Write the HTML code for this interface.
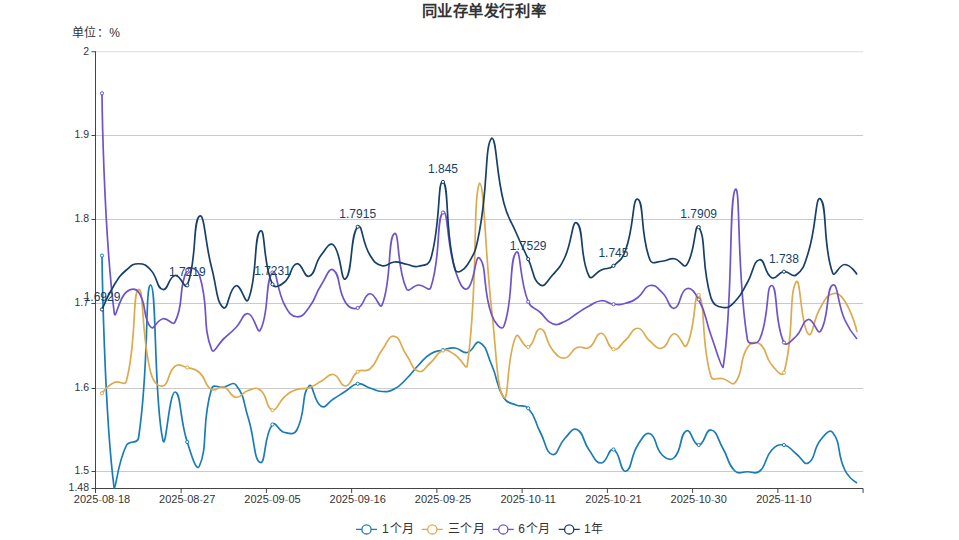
<!DOCTYPE html>
<html lang="zh-CN"><head><meta charset="utf-8"><title>同业存单发行利率</title>
<style>html,body{margin:0;padding:0;background:#fff;width:959px;height:540px;overflow:hidden;font-family:"Liberation Sans",sans-serif}svg{display:block}</style>
</head><body>
<svg width="959" height="540" viewBox="0 0 959 540" font-family='"Liberation Sans", sans-serif'>
<rect width="959" height="540" fill="#fff"/>
<line x1="95.9" y1="51.76" x2="863.1" y2="51.76" stroke="#dcdcdc" stroke-width="1"/>
<line x1="95.9" y1="135.50" x2="863.1" y2="135.50" stroke="#cacaca" stroke-width="1"/>
<line x1="95.9" y1="219.50" x2="863.1" y2="219.50" stroke="#cacaca" stroke-width="1"/>
<line x1="95.9" y1="303.50" x2="863.1" y2="303.50" stroke="#cacaca" stroke-width="1"/>
<line x1="95.9" y1="388.50" x2="863.1" y2="388.50" stroke="#cacaca" stroke-width="1"/>
<line x1="95.9" y1="471.50" x2="863.1" y2="471.50" stroke="#cacaca" stroke-width="1"/>
<line x1="95.5" y1="51.3" x2="95.5" y2="489.0" stroke="#444" stroke-width="1"/>
<line x1="95.0" y1="488.5" x2="863.1" y2="488.5" stroke="#444" stroke-width="1"/>
<line x1="91.5" y1="51.76" x2="95.5" y2="51.76" stroke="#444" stroke-width="1"/>
<line x1="91.5" y1="135.50" x2="95.5" y2="135.50" stroke="#444" stroke-width="1"/>
<line x1="91.5" y1="219.50" x2="95.5" y2="219.50" stroke="#444" stroke-width="1"/>
<line x1="91.5" y1="303.50" x2="95.5" y2="303.50" stroke="#444" stroke-width="1"/>
<line x1="91.5" y1="388.50" x2="95.5" y2="388.50" stroke="#444" stroke-width="1"/>
<line x1="91.5" y1="471.50" x2="95.5" y2="471.50" stroke="#444" stroke-width="1"/>
<line x1="91.5" y1="488.50" x2="95.5" y2="488.50" stroke="#444" stroke-width="1"/>
<line x1="95.50" y1="488.5" x2="95.50" y2="493.0" stroke="#444" stroke-width="1"/>
<line x1="181.14" y1="488.5" x2="181.14" y2="493.0" stroke="#444" stroke-width="1"/>
<line x1="266.39" y1="488.5" x2="266.39" y2="493.0" stroke="#444" stroke-width="1"/>
<line x1="351.63" y1="488.5" x2="351.63" y2="493.0" stroke="#444" stroke-width="1"/>
<line x1="436.88" y1="488.5" x2="436.88" y2="493.0" stroke="#444" stroke-width="1"/>
<line x1="522.12" y1="488.5" x2="522.12" y2="493.0" stroke="#444" stroke-width="1"/>
<line x1="607.37" y1="488.5" x2="607.37" y2="493.0" stroke="#444" stroke-width="1"/>
<line x1="692.61" y1="488.5" x2="692.61" y2="493.0" stroke="#444" stroke-width="1"/>
<line x1="777.86" y1="488.5" x2="777.86" y2="493.0" stroke="#444" stroke-width="1"/>
<line x1="863.10" y1="488.5" x2="863.10" y2="493.0" stroke="#444" stroke-width="1"/>
<text x="89" y="50.56" text-anchor="end" font-size="10.5" fill="#333" dominant-baseline="central">2</text>
<text x="89" y="134.30" text-anchor="end" font-size="10.5" fill="#333" dominant-baseline="central">1.9</text>
<text x="89" y="218.30" text-anchor="end" font-size="10.5" fill="#333" dominant-baseline="central">1.8</text>
<text x="89" y="302.30" text-anchor="end" font-size="10.5" fill="#333" dominant-baseline="central">1.7</text>
<text x="89" y="387.30" text-anchor="end" font-size="10.5" fill="#333" dominant-baseline="central">1.6</text>
<text x="89" y="470.30" text-anchor="end" font-size="10.5" fill="#333" dominant-baseline="central">1.5</text>
<text x="89" y="487.30" text-anchor="end" font-size="10.5" fill="#333" dominant-baseline="central">1.48</text>
<text x="102.0" y="503" text-anchor="middle" font-size="11" fill="#333">2025<tspan fill="#9a9a9a">-</tspan>08<tspan fill="#9a9a9a">-</tspan>18</text>
<text x="187.2" y="503" text-anchor="middle" font-size="11" fill="#333">2025<tspan fill="#9a9a9a">-</tspan>08<tspan fill="#9a9a9a">-</tspan>27</text>
<text x="272.5" y="503" text-anchor="middle" font-size="11" fill="#333">2025<tspan fill="#9a9a9a">-</tspan>09<tspan fill="#9a9a9a">-</tspan>05</text>
<text x="357.7" y="503" text-anchor="middle" font-size="11" fill="#333">2025<tspan fill="#9a9a9a">-</tspan>09<tspan fill="#9a9a9a">-</tspan>16</text>
<text x="443.0" y="503" text-anchor="middle" font-size="11" fill="#333">2025<tspan fill="#9a9a9a">-</tspan>09<tspan fill="#9a9a9a">-</tspan>25</text>
<text x="528.2" y="503" text-anchor="middle" font-size="11" fill="#333">2025<tspan fill="#9a9a9a">-</tspan>10<tspan fill="#9a9a9a">-</tspan>11</text>
<text x="613.5" y="503" text-anchor="middle" font-size="11" fill="#333">2025<tspan fill="#9a9a9a">-</tspan>10<tspan fill="#9a9a9a">-</tspan>21</text>
<text x="698.7" y="503" text-anchor="middle" font-size="11" fill="#333">2025<tspan fill="#9a9a9a">-</tspan>10<tspan fill="#9a9a9a">-</tspan>30</text>
<text x="783.9" y="503" text-anchor="middle" font-size="11" fill="#333">2025<tspan fill="#9a9a9a">-</tspan>11<tspan fill="#9a9a9a">-</tspan>10</text>
<path d="M101.99 255.60 C101.99 255.60 103.95 408.82 114.17 488.50 C116.12 488.50 117.12 464.63 126.34 445.50 C129.30 439.38 137.48 444.84 138.52 438.00 C149.66 364.59 144.65 284.50 150.70 285.00 C156.83 285.50 153.64 399.42 162.88 440.00 C165.82 452.92 169.08 391.51 175.06 392.00 C181.26 392.51 179.24 417.71 187.23 442.00 C191.42 454.71 196.29 472.82 199.41 466.00 C208.47 446.19 201.07 422.88 211.59 388.75 C213.24 383.38 217.69 387.94 223.77 387.00 C229.86 386.06 232.75 381.00 235.94 385.00 C244.93 396.25 242.93 400.96 248.12 417.50 C255.10 439.71 253.74 460.61 260.30 462.50 C265.92 464.11 263.56 435.49 272.48 424.50 C275.74 420.49 278.08 431.02 284.66 432.50 C290.26 433.77 294.23 434.98 296.83 430.00 C306.40 411.73 300.99 393.82 309.01 386.00 C313.16 381.95 313.58 402.19 321.19 406.25 C325.75 408.69 327.33 402.72 333.37 399.00 C339.51 395.22 339.43 395.08 345.54 391.25 C351.61 387.46 351.32 384.60 357.72 383.75 C363.50 382.98 363.76 386.05 369.90 388.00 C375.93 389.92 375.93 391.25 382.08 391.50 C388.11 391.75 388.92 391.80 394.26 389.00 C401.09 385.42 400.78 384.32 406.43 378.75 C412.96 372.32 412.21 371.57 418.61 365.00 C424.39 359.07 423.90 357.99 430.79 353.75 C436.08 350.49 436.78 351.46 442.97 350.00 C448.96 348.59 449.21 347.39 455.14 348.00 C461.39 348.64 461.82 353.74 467.32 352.50 C474.00 350.99 474.86 340.12 479.50 342.50 C487.04 346.37 486.55 353.32 491.68 365.00 C498.73 381.07 495.15 383.71 503.86 398.00 C507.33 403.71 509.61 402.30 516.03 405.00 C521.79 407.42 524.35 403.89 528.21 408.25 C536.53 417.64 534.07 420.50 540.39 432.50 C546.25 443.62 545.80 452.83 552.57 454.50 C557.98 455.83 557.80 445.63 564.74 438.50 C569.98 433.13 572.19 427.27 576.92 429.50 C584.37 433.02 582.13 440.41 589.10 450.00 C594.31 457.16 595.25 463.12 601.28 463.00 C607.43 462.87 608.32 447.76 613.46 449.50 C620.50 451.89 620.00 472.29 625.63 471.25 C632.18 470.04 630.07 456.92 637.81 445.00 C642.25 438.17 645.07 431.73 649.99 433.75 C657.25 436.73 654.09 447.12 662.17 455.00 C666.27 459.00 670.72 461.10 674.34 457.50 C682.90 448.98 679.09 434.57 686.52 430.75 C691.26 428.32 692.70 445.18 698.70 445.00 C704.88 444.81 705.23 429.13 710.88 430.00 C717.41 431.01 717.38 439.13 723.06 448.75 C729.55 459.76 726.98 463.46 735.23 471.25 C739.16 474.96 741.32 471.75 747.41 471.75 C753.50 471.75 755.54 474.86 759.59 471.25 C767.72 463.99 763.85 458.54 771.77 450.00 C776.02 445.41 778.25 444.12 783.94 445.00 C790.43 446.00 790.09 449.29 796.12 453.75 C802.27 458.29 803.79 465.54 808.30 463.00 C815.97 458.67 812.62 449.84 820.48 440.00 C824.80 434.59 829.41 428.51 832.66 432.50 C841.59 443.51 836.45 452.61 844.83 470.00 C848.62 477.86 857.01 483.00 857.01 483.00" fill="none" stroke="#1a7cb7" stroke-width="1.7" stroke-linejoin="round"/>
<path d="M101.99 393.25 C101.99 393.25 107.22 385.92 114.17 382.50 C119.40 379.92 124.92 386.68 126.34 381.25 C137.10 340.18 132.13 291.79 138.52 289.50 C144.31 287.42 140.69 332.84 150.70 372.50 C152.87 381.09 157.53 387.37 162.88 386.00 C169.71 384.25 167.08 372.31 175.06 366.25 C179.26 363.06 181.37 365.99 187.23 367.50 C193.54 369.12 194.71 368.25 199.41 372.50 C206.88 379.25 203.95 384.95 211.59 389.50 C216.13 392.20 218.43 385.30 223.77 387.00 C230.60 389.18 229.45 396.32 235.94 397.25 C241.63 398.07 241.63 392.43 248.12 390.50 C253.81 388.81 256.16 386.64 260.30 390.00 C268.33 396.51 265.60 408.34 272.48 410.25 C277.77 410.25 277.81 402.58 284.66 396.75 C289.99 392.21 290.31 391.91 296.83 389.50 C302.49 387.41 303.27 389.69 309.01 387.75 C315.45 385.57 315.13 384.55 321.19 381.25 C327.30 377.92 327.84 373.42 333.37 374.50 C340.02 375.80 339.80 386.65 345.54 386.00 C351.98 385.27 350.41 376.85 357.72 371.75 C362.59 368.35 365.56 372.87 369.90 369.00 C377.74 362.00 375.36 359.03 382.08 350.00 C387.54 342.65 388.76 335.12 394.26 336.25 C400.94 337.62 400.05 345.83 406.43 355.00 C412.23 363.33 411.61 369.09 418.61 371.25 C423.78 372.84 425.10 367.35 430.79 362.50 C437.28 356.97 436.04 352.63 442.97 350.50 C448.22 348.88 449.64 351.72 455.14 355.00 C461.82 358.97 466.35 371.84 467.32 365.00 C478.53 285.84 472.33 199.18 479.50 183.00 C484.51 183.00 484.48 246.63 491.68 310.00 C496.66 353.88 496.72 389.81 503.86 397.50 C508.90 402.94 506.37 356.29 516.03 336.25 C518.55 331.04 523.03 348.60 528.21 347.00 C535.21 344.85 534.63 328.04 540.39 328.75 C546.81 329.54 544.93 340.83 552.57 350.00 C557.11 355.46 558.96 358.59 564.74 358.00 C571.13 357.34 569.99 350.49 576.92 347.50 C582.17 345.24 584.30 350.31 589.10 347.50 C596.48 343.18 595.40 332.83 601.28 333.25 C607.58 333.70 606.54 347.33 613.46 349.25 C618.72 350.71 619.85 344.98 625.63 340.00 C632.03 334.48 631.88 327.95 637.81 328.25 C644.06 328.57 643.15 335.71 649.99 341.25 C655.33 345.58 656.98 349.60 662.17 348.00 C669.15 345.85 667.94 334.41 674.34 333.75 C680.12 333.16 683.53 350.26 686.52 345.50 C695.71 330.89 693.98 289.04 698.70 295.00 C706.16 304.42 700.30 339.88 710.88 376.25 C712.48 381.75 717.04 377.21 723.06 378.75 C729.22 380.33 732.12 386.50 735.23 382.50 C744.30 370.87 738.35 361.92 747.41 347.50 C750.53 342.54 755.42 340.76 759.59 343.75 C767.60 349.51 764.08 355.92 771.77 365.00 C776.26 370.30 782.30 378.12 783.94 372.50 C794.47 336.62 788.44 294.15 796.12 282.00 C800.62 274.90 800.42 325.75 808.30 334.00 C812.60 338.50 813.01 319.85 820.48 307.50 C825.18 299.72 825.81 295.51 832.66 293.75 C837.99 292.38 841.16 295.48 844.83 301.25 C853.33 314.60 857.01 332.00 857.01 332.00" fill="none" stroke="#ddaa4e" stroke-width="1.7" stroke-linejoin="round"/>
<path d="M101.99 93.30 C101.99 93.30 103.18 222.88 114.17 312.50 C115.36 322.23 118.28 298.78 126.34 292.00 C130.46 288.53 135.51 287.67 138.52 292.00 C147.69 305.17 141.98 317.43 150.70 327.00 C154.16 330.80 156.32 320.10 162.88 318.75 C168.50 317.60 172.73 326.65 175.06 322.00 C184.91 302.28 177.46 288.85 187.23 270.00 C189.64 265.35 197.60 269.10 199.41 275.00 C209.78 308.85 201.57 323.27 211.59 349.50 C213.75 355.14 217.74 344.19 223.77 338.75 C229.92 333.19 230.17 333.43 235.94 327.50 C242.34 320.93 242.34 313.16 248.12 313.75 C254.52 314.41 257.17 335.30 260.30 330.00 C269.35 314.67 264.82 280.36 272.48 272.50 C277.00 267.86 276.47 290.13 284.66 305.00 C288.65 312.25 290.44 316.09 296.83 316.75 C302.61 317.34 304.46 313.44 309.01 307.50 C316.63 297.56 314.25 295.68 321.19 285.00 C326.43 276.93 329.01 266.87 333.37 270.00 C341.19 275.62 336.75 288.78 345.54 302.50 C348.93 307.78 352.65 309.82 357.72 308.00 C364.83 305.45 363.44 294.55 369.90 293.75 C375.62 293.05 379.81 310.60 382.08 305.00 C391.98 280.60 387.41 238.32 394.26 233.75 C399.59 230.19 396.50 267.85 406.43 288.75 C408.68 293.48 412.45 285.32 418.61 285.00 C424.62 284.69 429.08 292.60 430.79 287.50 C441.25 256.35 436.10 217.43 442.97 212.50 C448.28 208.68 446.32 242.38 455.14 270.00 C458.50 280.51 462.41 291.17 467.32 288.75 C474.59 285.17 475.09 253.25 479.50 258.00 C487.27 266.37 482.20 288.43 491.68 315.00 C494.37 322.56 501.64 331.92 503.86 326.25 C513.82 300.67 508.78 259.80 516.03 252.50 C520.96 247.55 518.99 279.03 528.21 301.75 C531.16 309.03 534.36 307.06 540.39 312.50 C546.54 318.06 545.60 321.17 552.57 323.75 C557.77 325.67 559.15 323.85 564.74 321.50 C571.33 318.73 570.78 317.41 576.92 313.50 C582.95 309.66 582.78 309.31 589.10 306.00 C594.96 302.93 595.05 301.20 601.28 300.75 C607.23 300.32 607.26 303.61 613.46 304.25 C619.43 304.86 619.84 304.86 625.63 303.25 C632.02 301.48 632.45 301.41 637.81 297.50 C644.62 292.54 643.30 286.87 649.99 285.50 C655.48 284.37 657.13 287.79 662.17 292.50 C669.31 299.17 668.69 309.12 674.34 308.25 C680.87 307.25 679.39 291.31 686.52 288.75 C691.56 286.94 695.02 292.51 698.70 299.50 C707.20 315.64 704.55 317.34 710.88 335.00 C716.73 351.34 721.07 367.50 723.06 367.50 C733.25 306.60 728.63 197.09 735.23 189.50 C740.81 183.09 736.14 270.11 747.41 339.50 C748.32 345.11 757.39 344.37 759.59 339.50 C769.57 317.37 765.83 284.77 771.77 285.50 C778.01 286.27 774.08 321.95 783.94 342.50 C786.26 347.33 791.28 340.83 796.12 336.25 C803.45 329.33 801.60 320.88 808.30 319.50 C813.78 318.38 817.30 335.76 820.48 331.25 C829.47 318.51 825.79 288.17 832.66 285.00 C837.97 282.54 837.26 303.22 844.83 320.00 C849.44 330.22 857.01 339.00 857.01 339.00" fill="none" stroke="#6f53ca" stroke-width="1.7" stroke-linejoin="round"/>
<path d="M101.99 309.50 C101.99 309.50 107.03 296.58 114.17 285.00 C119.21 276.83 119.22 276.22 126.34 270.00 C131.39 265.59 132.43 263.75 138.52 263.75 C144.61 263.75 146.16 265.20 150.70 270.00 C158.33 278.07 156.14 287.98 162.88 289.50 C168.32 290.73 168.45 276.64 175.06 275.50 C180.62 274.54 185.01 290.70 187.23 285.30 C197.19 261.08 192.46 221.33 199.41 216.25 C204.64 212.43 204.83 242.05 211.59 267.50 C217.01 287.93 216.15 302.30 223.77 308.00 C228.33 309.50 228.94 288.05 235.94 285.75 C241.12 284.05 245.55 305.78 248.12 300.00 C257.73 278.40 253.46 235.41 260.30 231.00 C265.64 227.56 262.55 263.51 272.48 284.30 C274.73 289.01 280.26 285.71 284.66 282.00 C292.44 275.43 290.05 265.35 296.83 263.75 C302.23 262.48 303.94 278.07 309.01 276.25 C316.12 273.70 313.78 264.51 321.19 255.00 C325.96 248.88 329.65 241.38 333.37 245.00 C341.83 253.25 340.65 282.41 345.54 278.75 C352.83 273.31 349.99 234.34 357.72 226.80 C362.17 222.46 361.93 242.26 369.90 255.00 C374.11 261.74 375.25 263.79 382.08 265.75 C387.43 267.29 388.08 262.38 394.26 262.00 C400.26 261.63 400.33 263.19 406.43 264.25 C412.51 265.31 412.97 267.52 418.61 266.25 C425.15 264.77 428.90 265.30 430.79 258.75 C441.08 223.12 437.27 179.38 442.97 181.90 C449.45 184.76 444.53 233.27 455.14 269.50 C456.70 274.82 464.10 270.09 467.32 265.00 C476.28 250.84 476.11 248.65 479.50 231.00 C488.29 185.15 484.54 146.21 491.68 138.00 C496.71 138.00 495.64 171.13 503.86 203.00 C507.82 218.38 509.68 217.87 516.03 232.50 C521.86 245.92 522.06 245.83 528.21 259.10 C534.23 272.08 532.54 279.87 540.39 285.00 C544.71 287.82 547.39 280.84 552.57 275.00 C559.57 267.09 560.26 267.07 564.74 257.50 C572.44 241.07 572.04 219.24 576.92 223.00 C584.22 228.61 579.36 257.46 589.10 276.25 C591.54 280.96 595.00 272.69 601.28 270.00 C607.18 267.47 608.68 269.72 613.46 265.80 C620.86 259.72 622.27 259.20 625.63 250.00 C634.44 225.93 632.24 196.96 637.81 199.25 C644.42 201.96 639.82 234.11 649.99 260.00 C652.00 265.11 656.12 261.56 662.17 261.25 C668.30 260.94 668.55 257.86 674.34 258.75 C680.73 259.73 683.40 269.04 686.52 265.00 C695.58 253.27 694.35 221.39 698.70 227.20 C706.52 237.64 700.90 264.61 710.88 297.50 C713.08 304.76 716.54 306.50 723.06 307.50 C728.72 308.37 730.61 306.00 735.23 301.25 C742.79 293.50 741.76 292.13 747.41 282.50 C753.94 271.38 752.98 261.04 759.59 259.75 C765.16 258.66 764.28 274.07 771.77 277.75 C776.45 280.05 777.63 272.41 783.94 271.70 C789.81 271.04 792.10 278.17 796.12 275.00 C804.28 268.57 804.43 264.58 808.30 252.50 C816.61 226.58 815.33 194.67 820.48 199.00 C827.51 204.92 822.49 245.66 832.66 273.00 C834.67 278.41 838.92 264.14 844.83 264.50 C851.10 264.89 857.01 274.50 857.01 274.50" fill="none" stroke="#163f69" stroke-width="1.7" stroke-linejoin="round"/>
<circle cx="101.99" cy="255.60" r="1.6" fill="#fff" stroke="#1a7cb7" stroke-width="1"/>
<circle cx="187.23" cy="442.00" r="1.6" fill="#fff" stroke="#1a7cb7" stroke-width="1"/>
<circle cx="272.48" cy="424.50" r="1.6" fill="#fff" stroke="#1a7cb7" stroke-width="1"/>
<circle cx="357.72" cy="383.75" r="1.6" fill="#fff" stroke="#1a7cb7" stroke-width="1"/>
<circle cx="442.97" cy="350.00" r="1.6" fill="#fff" stroke="#1a7cb7" stroke-width="1"/>
<circle cx="528.21" cy="408.25" r="1.6" fill="#fff" stroke="#1a7cb7" stroke-width="1"/>
<circle cx="613.46" cy="449.50" r="1.6" fill="#fff" stroke="#1a7cb7" stroke-width="1"/>
<circle cx="698.70" cy="445.00" r="1.6" fill="#fff" stroke="#1a7cb7" stroke-width="1"/>
<circle cx="783.94" cy="445.00" r="1.6" fill="#fff" stroke="#1a7cb7" stroke-width="1"/>
<circle cx="101.99" cy="393.25" r="1.6" fill="#fff" stroke="#ddaa4e" stroke-width="1"/>
<circle cx="187.23" cy="367.50" r="1.6" fill="#fff" stroke="#ddaa4e" stroke-width="1"/>
<circle cx="272.48" cy="410.25" r="1.6" fill="#fff" stroke="#ddaa4e" stroke-width="1"/>
<circle cx="357.72" cy="371.75" r="1.6" fill="#fff" stroke="#ddaa4e" stroke-width="1"/>
<circle cx="442.97" cy="350.50" r="1.6" fill="#fff" stroke="#ddaa4e" stroke-width="1"/>
<circle cx="528.21" cy="347.00" r="1.6" fill="#fff" stroke="#ddaa4e" stroke-width="1"/>
<circle cx="613.46" cy="349.25" r="1.6" fill="#fff" stroke="#ddaa4e" stroke-width="1"/>
<circle cx="698.70" cy="295.00" r="1.6" fill="#fff" stroke="#ddaa4e" stroke-width="1"/>
<circle cx="783.94" cy="372.50" r="1.6" fill="#fff" stroke="#ddaa4e" stroke-width="1"/>
<circle cx="101.99" cy="93.30" r="1.6" fill="#fff" stroke="#6f53ca" stroke-width="1"/>
<circle cx="187.23" cy="270.00" r="1.6" fill="#fff" stroke="#6f53ca" stroke-width="1"/>
<circle cx="272.48" cy="272.50" r="1.6" fill="#fff" stroke="#6f53ca" stroke-width="1"/>
<circle cx="357.72" cy="308.00" r="1.6" fill="#fff" stroke="#6f53ca" stroke-width="1"/>
<circle cx="442.97" cy="212.50" r="1.6" fill="#fff" stroke="#6f53ca" stroke-width="1"/>
<circle cx="528.21" cy="301.75" r="1.6" fill="#fff" stroke="#6f53ca" stroke-width="1"/>
<circle cx="613.46" cy="304.25" r="1.6" fill="#fff" stroke="#6f53ca" stroke-width="1"/>
<circle cx="698.70" cy="299.50" r="1.6" fill="#fff" stroke="#6f53ca" stroke-width="1"/>
<circle cx="783.94" cy="342.50" r="1.6" fill="#fff" stroke="#6f53ca" stroke-width="1"/>
<circle cx="101.99" cy="309.50" r="1.6" fill="#fff" stroke="#163f69" stroke-width="1"/>
<circle cx="187.23" cy="285.30" r="1.6" fill="#fff" stroke="#163f69" stroke-width="1"/>
<circle cx="272.48" cy="284.30" r="1.6" fill="#fff" stroke="#163f69" stroke-width="1"/>
<circle cx="357.72" cy="226.80" r="1.6" fill="#fff" stroke="#163f69" stroke-width="1"/>
<circle cx="442.97" cy="181.90" r="1.6" fill="#fff" stroke="#163f69" stroke-width="1"/>
<circle cx="528.21" cy="259.10" r="1.6" fill="#fff" stroke="#163f69" stroke-width="1"/>
<circle cx="613.46" cy="265.80" r="1.6" fill="#fff" stroke="#163f69" stroke-width="1"/>
<circle cx="698.70" cy="227.20" r="1.6" fill="#fff" stroke="#163f69" stroke-width="1"/>
<circle cx="783.94" cy="271.70" r="1.6" fill="#fff" stroke="#163f69" stroke-width="1"/>
<text x="101.99" y="300.50" text-anchor="middle" font-size="12" fill="#163f69">1.6929</text>
<text x="187.23" y="276.30" text-anchor="middle" font-size="12" fill="#163f69">1.7219</text>
<text x="272.48" y="275.30" text-anchor="middle" font-size="12" fill="#163f69">1.7231</text>
<text x="357.72" y="217.80" text-anchor="middle" font-size="12" fill="#163f69">1.7915</text>
<text x="442.97" y="172.90" text-anchor="middle" font-size="12" fill="#163f69">1.845</text>
<text x="528.21" y="250.10" text-anchor="middle" font-size="12" fill="#163f69">1.7529</text>
<text x="613.46" y="256.80" text-anchor="middle" font-size="12" fill="#163f69">1.745</text>
<text x="698.70" y="218.20" text-anchor="middle" font-size="12" fill="#163f69">1.7909</text>
<text x="783.94" y="262.70" text-anchor="middle" font-size="12" fill="#163f69">1.738</text>
<text x="0" y="0" transform="translate(483.8 15.6) scale(1 1)" text-anchor="middle" letter-spacing="0.57" font-size="15.3" font-weight="bold" fill="#333">同业存单发行利率</text>
<text x="72" y="36.8" font-size="12" letter-spacing="0.45" fill="#333">单位：%</text>
<line x1="356.0" y1="529.4" x2="377.0" y2="529.4" stroke="#1a7cb7" stroke-width="1.3"/>
<circle cx="366.5" cy="529.4" r="4.6" fill="#fff" stroke="#1a7cb7" stroke-width="1.3"/>
<text x="382.1" y="529.4" font-size="12" letter-spacing="0.8" fill="#333" dominant-baseline="central">1个月</text>
<line x1="421.8" y1="529.4" x2="442.8" y2="529.4" stroke="#ddaa4e" stroke-width="1.3"/>
<circle cx="432.3" cy="529.4" r="4.6" fill="#fff" stroke="#ddaa4e" stroke-width="1.3"/>
<text x="447.6" y="529.4" font-size="12" letter-spacing="0.8" fill="#333" dominant-baseline="central">三个月</text>
<line x1="492.8" y1="529.4" x2="513.8" y2="529.4" stroke="#6f53ca" stroke-width="1.3"/>
<circle cx="503.3" cy="529.4" r="4.6" fill="#fff" stroke="#6f53ca" stroke-width="1.3"/>
<text x="518.2" y="529.4" font-size="12" letter-spacing="0.8" fill="#333" dominant-baseline="central">6个月</text>
<line x1="558.7" y1="529.4" x2="579.7" y2="529.4" stroke="#163f69" stroke-width="1.3"/>
<circle cx="569.2" cy="529.4" r="4.6" fill="#fff" stroke="#163f69" stroke-width="1.3"/>
<text x="584.0" y="529.4" font-size="12" letter-spacing="0.8" fill="#333" dominant-baseline="central">1年</text>
</svg>
</body></html>
